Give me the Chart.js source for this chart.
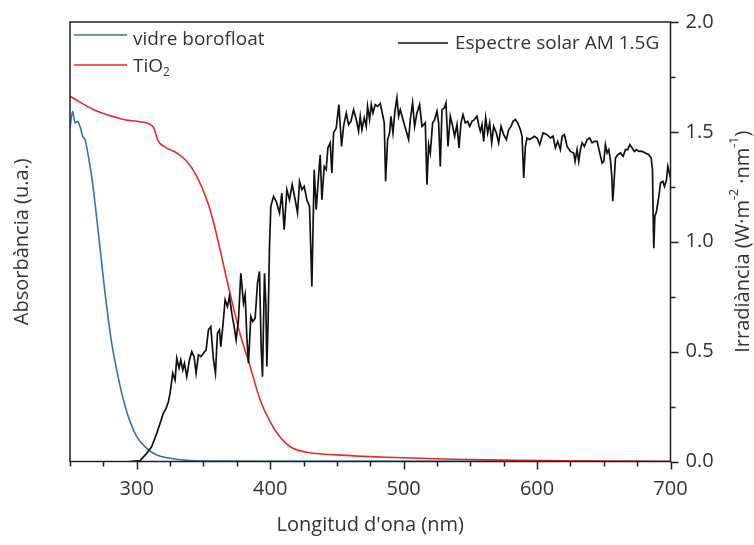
<!DOCTYPE html>
<html>
<head>
<meta charset="utf-8">
<script src="https://cdn.jsdelivr.net/npm/chart.js@4.4.0/dist/chart.umd.min.js"></script>
<style>
html, body { margin: 0; padding: 0; background: #fff; }
#wrap { width: 754px; height: 545px; }
</style>
</head>
<body>
<div id="wrap"><canvas id="chart"></canvas></div>
<script>
// vidre borofloat absorbance (arb. units, read on the 0-2 scale)
const glassNm  = [250, 252, 253.75, 255.5, 257.5, 259.5, 261.25, 263.75, 266.25, 268.75, 271.25, 273.75, 276.25, 278.75, 281.25, 285, 288.75, 293.75, 300, 307.5, 315, 325, 337.5, 350, 400, 500, 600, 700];
const glassAbs = [1.519, 1.594, 1.541, 1.548, 1.525, 1.48, 1.465, 1.389, 1.297, 1.176, 1.04, 0.903, 0.766, 0.645, 0.539, 0.417, 0.311, 0.204, 0.113, 0.06, 0.03, 0.015, 0.005, 0.002, 0.001, 0.001, 0.0005, 0];

// TiO2 absorbance
const tioNm  = [250, 268.75, 288.75, 300, 312, 316.25, 321.25, 330, 337.5, 345, 352.5, 357.5, 362.5, 367.5, 372.5, 377.5, 385, 392.5, 400, 407.5, 415, 427.5, 450, 487.5, 537.5, 587.5, 637.5, 700];
const tioAbs = [1.662, 1.598, 1.559, 1.548, 1.525, 1.457, 1.431, 1.404, 1.366, 1.297, 1.191, 1.09, 0.964, 0.827, 0.70, 0.58, 0.432, 0.28, 0.18, 0.11, 0.067, 0.042, 0.03, 0.019, 0.01, 0.005, 0.002, 0];

// AM 1.5G solar irradiance
const solarNm = [295, 302.5, 307.5, 311.25, 315, 317.5, 320, 322, 323.75, 325, 327, 328.75, 330, 331.75, 333, 334.5, 335.75, 337.5, 339.5, 341.25, 343, 344.5, 346.25, 348, 350, 352, 353.75, 355.5, 357.5, 359, 360.5, 362, 363, 364.5, 366.25, 368, 369.5, 371.25, 373, 374.5, 376.25, 378, 380, 381.25, 382.5, 383.75, 385.5, 387, 388.75, 390.5, 392, 393.25, 394.25, 395.75, 396.75, 397.5, 398.5, 399.5, 400.5, 402.5, 404.5, 407, 408.75, 410.5, 412.5, 414.5, 416.5, 418.75, 420.5, 422, 423.75, 425.5, 427.5, 429.5, 431.25, 433, 434.5, 436.25, 437.5, 438.75, 440.5, 442, 443.25, 445, 446.25, 447.5, 449.5, 451.5, 453.5, 455, 457, 458.75, 460.5, 462.5, 464.5, 466.25, 467.5, 468.75, 470.5, 472, 473, 474.5, 475.75, 477, 478.75, 480.5, 482.5, 484.5, 485.5, 486.5, 488, 489.5, 490.5, 492, 493.5, 495, 496.25, 497.5, 499.5, 502, 503.75, 505, 506.75, 508.25, 510, 512, 513.75, 516.25, 517.5, 518.75, 520, 521.75, 523.25, 525, 526.25, 527.5, 528.75, 530.5, 531.75, 533.25, 535, 536.75, 538.25, 540, 541.5, 543, 544.5, 546.25, 548, 549.5, 551.25, 553, 555, 556.5, 557.5, 558.75, 560, 561.5, 563, 564.5, 566, 567.5, 569.5, 571.25, 573, 575, 577, 578.75, 580.5, 582, 583.75, 585.5, 587.5, 588.75, 590, 591.25, 592.5, 594.5, 596.25, 598, 600, 602, 604.5, 607.5, 610, 612, 613.75, 615.5, 617.5, 618.75, 620.5, 622.5, 625, 627.5, 628.5, 630, 631.25, 632.5, 633.75, 635.5, 637.5, 639.5, 641.25, 643, 645, 647, 648.75, 650, 651.25, 652.5, 653.75, 655, 656, 656.75, 657.5, 658.75, 660.5, 662.5, 664.5, 666.25, 668, 669.5, 671.25, 673, 674.5, 676.25, 678.75, 681.25, 683.75, 685.5, 686.5, 687, 687.5, 688.25, 689.5, 691.25, 692.5, 694.25, 695.5, 697, 698, 699.5, 700];
const solarIrr = [0, 0.004, 0.037, 0.068, 0.128, 0.174, 0.22, 0.242, 0.272, 0.311, 0.402, 0.371, 0.47, 0.425, 0.462, 0.417, 0.447, 0.386, 0.462, 0.5, 0.477, 0.402, 0.485, 0.477, 0.493, 0.508, 0.599, 0.614, 0.462, 0.402, 0.584, 0.599, 0.523, 0.614, 0.736, 0.705, 0.751, 0.675, 0.614, 0.554, 0.645, 0.857, 0.721, 0.759, 0.569, 0.447, 0.66, 0.637, 0.652, 0.812, 0.865, 0.523, 0.386, 0.857, 0.721, 0.432, 0.645, 0.979, 1.161, 1.206, 1.184, 1.131, 1.222, 1.055, 1.237, 1.191, 1.26, 1.191, 1.131, 1.275, 1.237, 1.252, 1.191, 1.161, 0.796, 1.328, 1.146, 1.297, 1.396, 1.191, 1.343, 1.328, 1.427, 1.45, 1.313, 1.495, 1.518, 1.624, 1.434, 1.525, 1.586, 1.533, 1.548, 1.601, 1.556, 1.503, 1.571, 1.51, 1.564, 1.525, 1.616, 1.556, 1.624, 1.586, 1.624, 1.616, 1.629, 1.571, 1.541, 1.275, 1.465, 1.495, 1.571, 1.495, 1.594, 1.655, 1.571, 1.601, 1.556, 1.503, 1.465, 1.556, 1.632, 1.525, 1.586, 1.624, 1.525, 1.541, 1.26, 1.442, 1.404, 1.541, 1.556, 1.594, 1.541, 1.343, 1.601, 1.609, 1.632, 1.434, 1.571, 1.525, 1.48, 1.533, 1.427, 1.541, 1.579, 1.541, 1.548, 1.525, 1.548, 1.556, 1.571, 1.525, 1.503, 1.533, 1.457, 1.564, 1.495, 1.541, 1.45, 1.525, 1.495, 1.45, 1.525, 1.487, 1.465, 1.51, 1.525, 1.548, 1.556, 1.541, 1.51, 1.48, 1.29, 1.434, 1.472, 1.465, 1.472, 1.48, 1.472, 1.442, 1.495, 1.487, 1.472, 1.48, 1.427, 1.457, 1.419, 1.48, 1.487, 1.434, 1.411, 1.404, 1.366, 1.419, 1.366, 1.419, 1.45, 1.434, 1.465, 1.472, 1.45, 1.457, 1.457, 1.404, 1.358, 1.366, 1.442, 1.404, 1.419, 1.373, 1.297, 1.184, 1.252, 1.381, 1.396, 1.404, 1.389, 1.419, 1.419, 1.442, 1.427, 1.411, 1.419, 1.411, 1.411, 1.404, 1.396, 1.381, 1.328, 1.115, 0.971, 1.115, 1.138, 1.206, 1.267, 1.275, 1.252, 1.282, 1.343, 1.305, 1.29];

const xMajor = [300, 400, 500, 600, 700];
const yMajor = [0, 0.5, 1.0, 1.5, 2.0];

const FONT = "'Open Sans', sans-serif";
const AXIS = '#231f20';

function pts(xs, ys) { return xs.map((x, i) => ({ x: x, y: ys[i] })); }

// draws text made of normal / superscript / subscript pieces
function richText(ctx, parts, x, y, size, align) {
    let w = 0;
    parts.forEach(p => {
        ctx.font = (p.s ? size * 0.62 : size) + 'px ' + FONT;
        p.w = ctx.measureText(p.t).width;
        w += p.w;
    });
    let cx = align === 'center' ? x - w / 2 : x;
    parts.forEach(p => {
        ctx.font = (p.s ? size * 0.62 : size) + 'px ' + FONT;
        let dy = p.s === 'sup' ? -size * 0.42 : p.s === 'sub' ? size * 0.22 : 0;
        ctx.fillText(p.t, cx, y + dy);
        cx += p.w;
    });
}

const framePlugin = {
    id: 'frame',
    afterDraw(chart) {
        const { ctx, chartArea: a, scales } = chart;
        ctx.save();
        ctx.strokeStyle = AXIS;
        ctx.lineWidth = 1.5;
        ctx.strokeRect(a.left, a.top, a.right - a.left, a.bottom - a.top);

        // x ticks, minor every 25
        ctx.beginPath();
        for (let v = 250; v <= 700; v += 25) {
            const px = Math.round(scales.x.getPixelForValue(v)) + 0.5;
            const len = v % 100 === 0 ? 8 : 5;
            ctx.moveTo(px, a.bottom);
            ctx.lineTo(px, a.bottom + len);
        }
        // right y ticks, minor every 0.25
        for (let v = 0; v <= 2.001; v += 0.25) {
            const py = Math.round(scales.y.getPixelForValue(v)) + 0.5;
            const len = Math.abs(v * 2 - Math.round(v * 2)) < 1e-6 ? 8 : 5;
            ctx.moveTo(a.right, py);
            ctx.lineTo(a.right + len, py);
        }
        ctx.stroke();

        // legend
        const legend = [
            { color: '#2878b5', x0: 74, x1: 127, y: 35, base: 45, tx: 133, parts: [{ t: 'vidre borofloat' }] },
            { color: '#e8282b', x0: 74, x1: 127, y: 65, base: 72, tx: 133, parts: [{ t: 'TiO' }, { t: '2', s: 'sub' }] },
            { color: '#111111', x0: 398, x1: 448, y: 43, base: 49, tx: 455, parts: [{ t: 'Espectre solar AM 1.5G' }] }
        ];
        ctx.textBaseline = 'alphabetic';
        ctx.textAlign = 'left';
        ctx.fillStyle = '#333';
        legend.forEach(l => {
            ctx.strokeStyle = l.color;
            ctx.lineWidth = 1.5;
            ctx.beginPath();
            ctx.moveTo(l.x0, l.y);
            ctx.lineTo(l.x1, l.y);
            ctx.stroke();
            richText(ctx, l.parts, l.tx, l.base, 19, 'left');
        });

        // right axis title, reads bottom to top
        ctx.textBaseline = 'middle';
        ctx.translate(743, (a.top + a.bottom) / 2);
        ctx.rotate(-Math.PI / 2);
        richText(ctx, [{ t: 'Irradiància (W·m' }, { t: '-2', s: 'sup' }, { t: ' ·nm' }, { t: '-1', s: 'sup' }, { t: ')' }], 0, 0, 20, 'center');
        ctx.restore();
    }
};

// keep the tick labels from pushing the plot area around
function fixWidth(w) {
    return s => { s.width = w; s.paddingTop = 0; s.paddingBottom = 0; };
}

Chart.defaults.font.family = FONT;
Chart.defaults.font.size = 20;
Chart.defaults.color = '#333';

new Chart(document.getElementById('chart'), {
    type: 'line',
    data: {
        datasets: [
            { label: 'Espectre solar AM 1.5G', data: pts(solarNm, solarIrr), yAxisID: 'y', borderColor: '#111111', borderWidth: 1.7, pointRadius: 0, tension: 0 },
            { label: 'TiO2', data: pts(tioNm, tioAbs), yAxisID: 'yA', borderColor: '#e8282b', borderWidth: 1.6, pointRadius: 0, cubicInterpolationMode: 'monotone' },
            { label: 'vidre borofloat', data: pts(glassNm, glassAbs), yAxisID: 'yA', borderColor: '#2878b5', borderWidth: 1.6, pointRadius: 0, cubicInterpolationMode: 'monotone' }
        ]
    },
    options: {
        responsive: true,
        maintainAspectRatio: false,
        animation: false,
        layout: { padding: { top: 22, left: 0, right: 0, bottom: 0 } },
        plugins: { legend: { display: false }, tooltip: { enabled: false } },
        scales: {
            x: {
                type: 'linear', min: 250, max: 700,
                afterBuildTicks: s => { s.ticks = xMajor.map(v => ({ value: v })); },
                afterFit: s => { s.height = 83.5; s.paddingLeft = 0; s.paddingRight = 0; },
                grid: { display: false, drawTicks: false },
                border: { display: false },
                ticks: { padding: 16, color: '#333' },
                title: { display: true, text: "Longitud d'ona (nm)", padding: { bottom: 8 }, color: '#333' }
            },
            yA: {
                position: 'left', min: 0, max: 2,
                afterFit: fixWidth(70),
                grid: { display: false, drawTicks: false },
                border: { display: false },
                ticks: { display: false },
                title: { display: true, text: 'Absorbància (u.a.)', padding: { top: 10 }, color: '#333' }
            },
            y: {
                position: 'right', min: 0, max: 2,
                afterBuildTicks: s => { s.ticks = yMajor.map(v => ({ value: v })); },
                afterFit: fixWidth(83.5),
                grid: { display: false, drawTicks: false },
                border: { display: false },
                ticks: { padding: 15, color: '#333', callback: v => v.toFixed(1) }
            }
        }
    },
    plugins: [framePlugin]
});
</script>
</body>
</html>
